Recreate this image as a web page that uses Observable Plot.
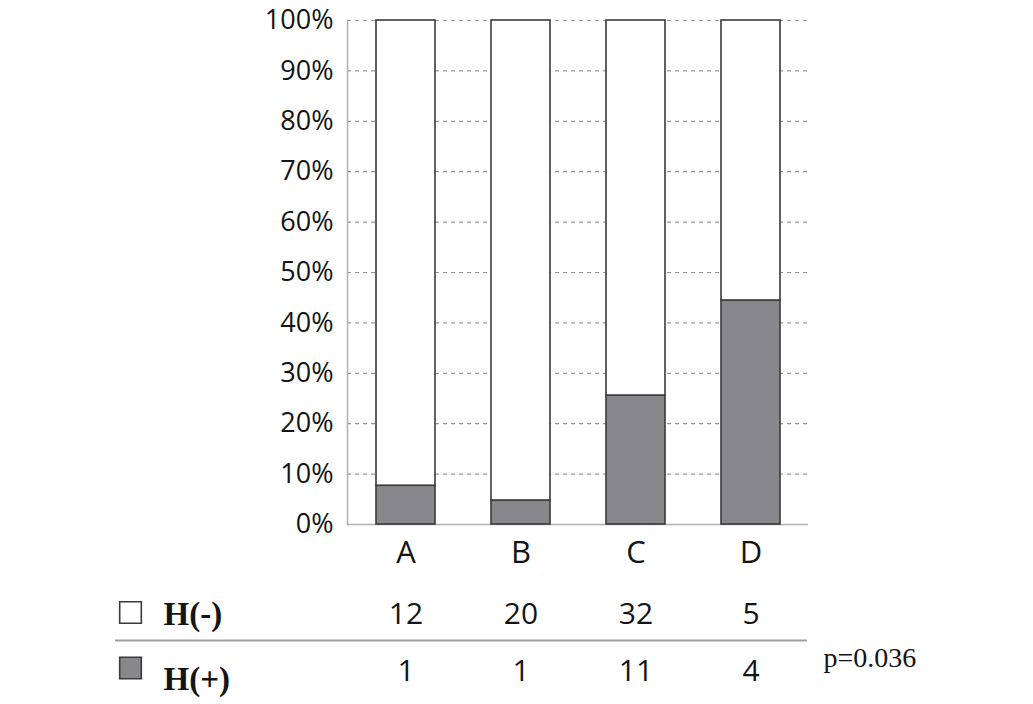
<!DOCTYPE html>
<html>
<head>
<meta charset="utf-8">
<script src="https://cdn.jsdelivr.net/npm/d3@7"></script>
<script src="https://cdn.jsdelivr.net/npm/@observablehq/plot@0.6"></script>
<style>
  html, body { margin: 0; padding: 0; background: #fff; }
  #chart { width: 1033px; height: 704px; }
</style>
</head>
<body>
<div id="chart"></div>
<script>
const categories = ["A", "B", "C", "D"];
const hNeg = [12, 20, 32, 5];   // H(-) counts
const hPos = [1, 1, 11, 4];     // H(+) counts
const yTicks = [0, 0.1, 0.2, 0.3, 0.4, 0.5, 0.6, 0.7, 0.8, 0.9, 1.0];
const seriesNames = ["H(+)", "H(-)"];
const pLabel = "p=0.036";

const long = [];
categories.forEach((c, i) => {
  long.push({cat: c, status: "H(+)", count: hPos[i]});
  long.push({cat: c, status: "H(-)", count: hNeg[i]});
});
const rows = categories.map((c, i) => ({cat: c, neg: hNeg[i], pos: hPos[i]}));

const sans = "'Open Sans', 'Noto Sans', sans-serif";
const serif = "'Liberation Serif', 'DejaVu Serif', serif";
const ink = "#141414";

const chart = Plot.plot({
  width: 1033,
  height: 704,
  marginLeft: 347,
  marginRight: 225,
  marginTop: 20,
  marginBottom: 180,
  style: {fontFamily: sans, fontSize: "27px", color: ink, background: "#fff", overflow: "visible"},
  x: {domain: categories, paddingInner: 0.49, paddingOuter: 0.245, label: null},
  y: {domain: [0, 1], ticks: yTicks, label: null},
  color: {domain: seriesNames, range: ["#88888c", "#ffffff"]},
  marks: [
    Plot.gridY(yTicks, {stroke: "#9a9a9a", strokeOpacity: 1, strokeDasharray: "4,4", strokeWidth: 1.2}),
    Plot.frame({anchor: "left", stroke: "#b0b0b0", strokeWidth: 1.5}),
    Plot.ruleY([0], {stroke: "#b0b0b0", strokeWidth: 1.5}),
    Plot.barY(long, Plot.stackY({offset: "normalize"}, {
      x: "cat", y: "count", fill: "status", stroke: "#3a3a3a", strokeWidth: 1.6
    })),
    Plot.axisY(yTicks, {tickSize: 0, tickPadding: 14, tickFormat: d => Math.round(d * 100) + "%", fontSize: 27, fill: ink, label: null}),
    Plot.axisX({tickSize: 0, tickPadding: 16, fontSize: 31, fill: ink, label: null}),
    // table rows under the chart
    Plot.text(rows, {x: "cat", text: "neg", frameAnchor: "bottom", dy: 90, fontSize: 30, lineAnchor: "middle", fill: ink}),
    Plot.text(rows, {x: "cat", text: "pos", frameAnchor: "bottom", dy: 147, fontSize: 30, lineAnchor: "middle", fill: ink}),
    Plot.ruleY([0], {dy: 116, insetLeft: -232, insetRight: 1, stroke: "#a0a0a0", strokeWidth: 2}),
    Plot.dot([seriesNames[1]], {frameAnchor: "bottom-left", dx: -217, dy: 88, symbol: "square", r: 12.2, fill: "#ffffff", stroke: "#3a3a3a", strokeWidth: 1.6}),
    Plot.dot([seriesNames[0]], {frameAnchor: "bottom-left", dx: -217, dy: 143.5, symbol: "square", r: 12.2, fill: "#88888c", stroke: "#3a3a3a", strokeWidth: 1.6}),
    Plot.text([seriesNames[1]], {text: d => d, frameAnchor: "bottom-left", dx: -184, dy: 90, textAnchor: "start", lineAnchor: "middle", fontFamily: serif, fontWeight: "bold", fontSize: 33, fill: ink}),
    Plot.text([seriesNames[0]], {text: d => d, frameAnchor: "bottom-left", dx: -184, dy: 155, textAnchor: "start", lineAnchor: "middle", fontFamily: serif, fontWeight: "bold", fontSize: 33, fill: ink}),
    Plot.text([pLabel], {text: d => d, frameAnchor: "bottom-right", dx: 15, dy: 134, textAnchor: "start", lineAnchor: "middle", fontFamily: serif, fontSize: 28, fill: ink})
  ]
});
document.getElementById("chart").appendChild(chart);
</script>
</body>
</html>
